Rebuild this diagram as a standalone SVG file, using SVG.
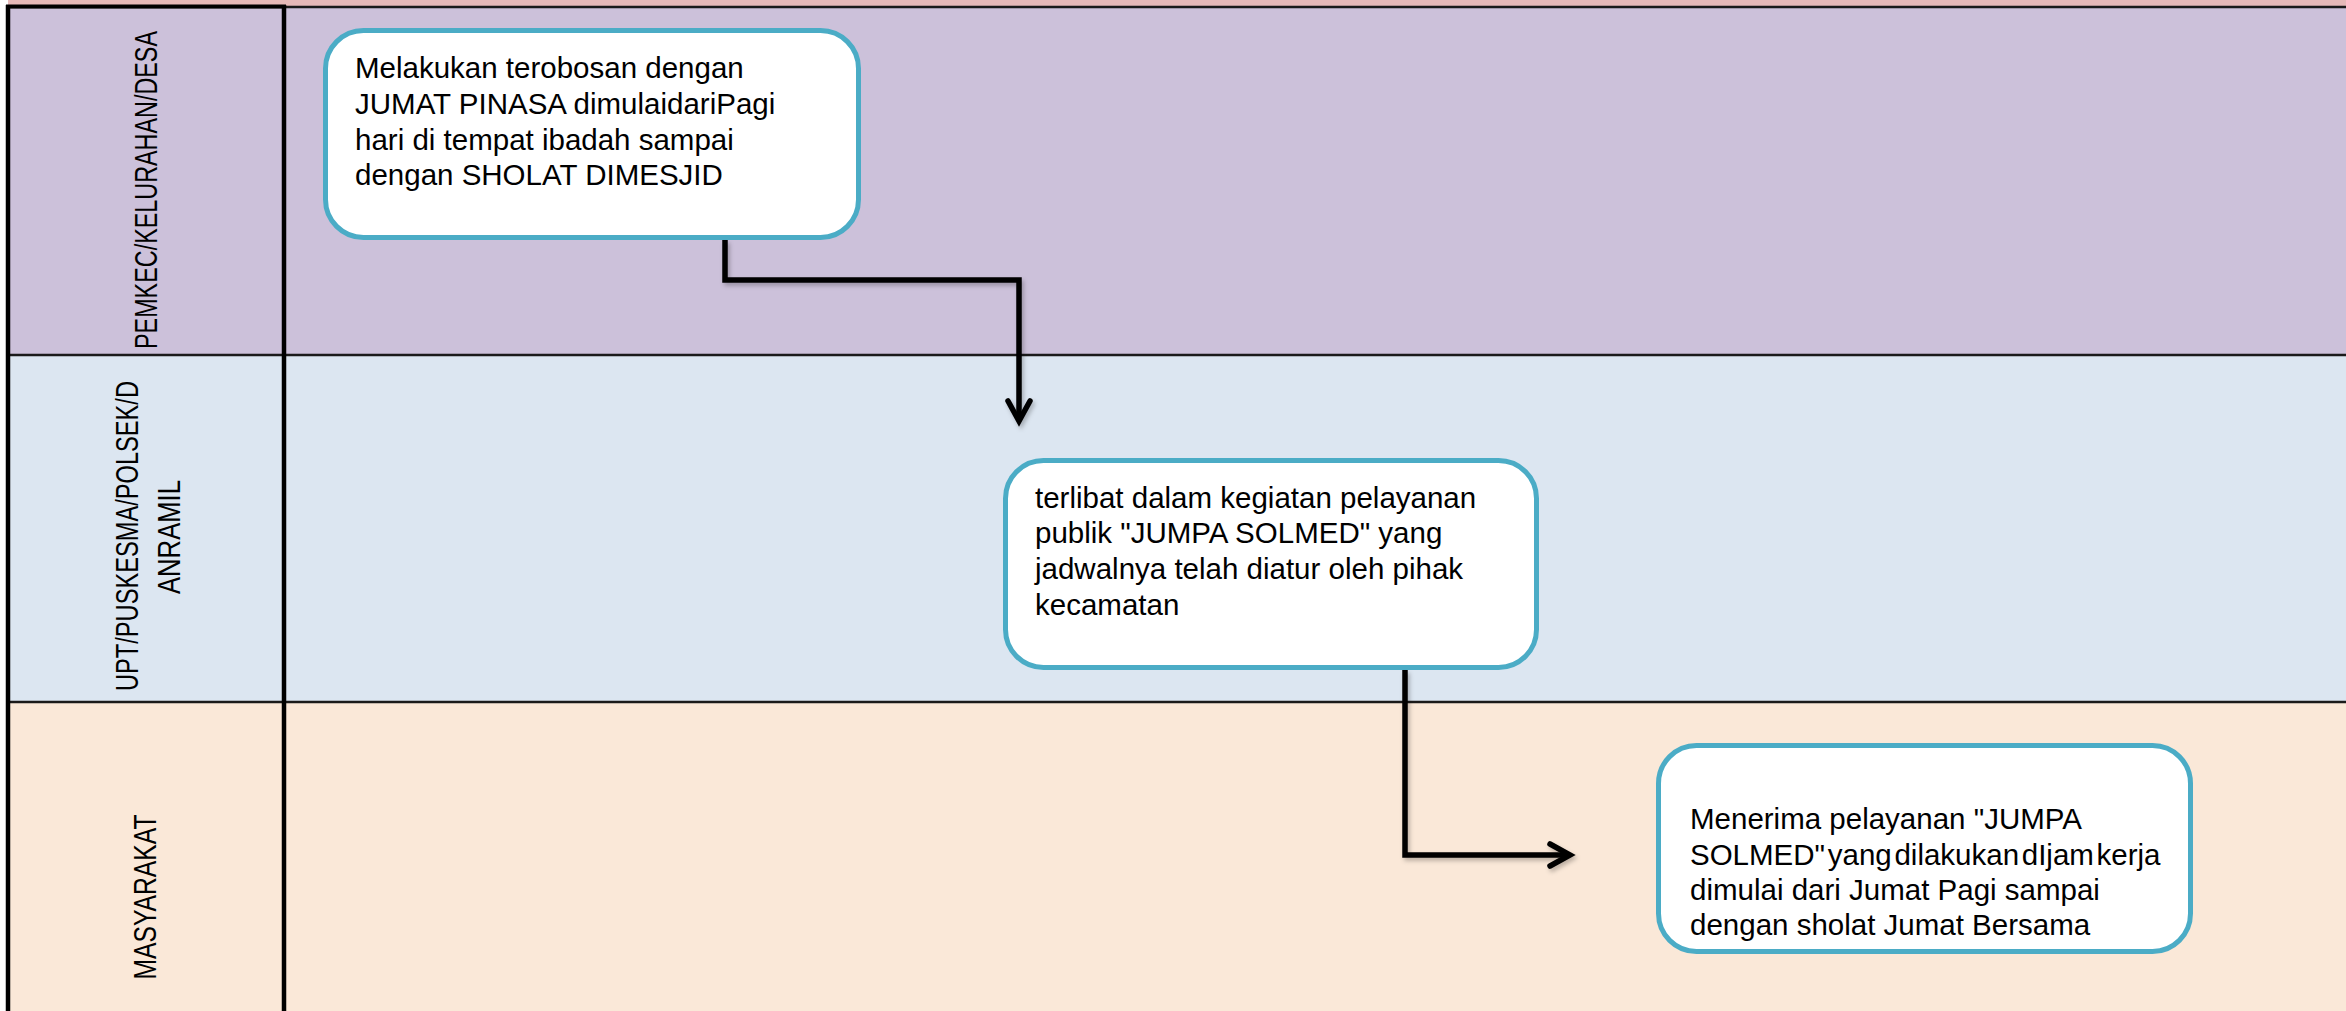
<svg xmlns="http://www.w3.org/2000/svg" width="2346" height="1011" viewBox="0 0 2346 1011">
  <defs>
    <style>
      .lane-line { stroke: #1a1a1a; stroke-width: 2.5; }
      .box { fill: #ffffff; stroke: #4BACC6; stroke-width: 5; }
      .txt { font-family: "Liberation Sans", Arial, sans-serif; font-size: 29.5px; fill: #000000; }
      .lbl { font-family: "Liberation Sans", Arial, sans-serif; font-size: 31px; fill: #000000; text-anchor: middle; }
      .conn { fill: none; stroke: #000000; stroke-width: 5.5; stroke-linejoin: miter; }
      .head { fill: none; stroke: #000000; stroke-width: 5.5; stroke-linecap: round; stroke-linejoin: miter; }
    </style>
    <filter id="shadow" x="-10%" y="-10%" width="130%" height="130%">
      <feDropShadow dx="2" dy="3" stdDeviation="2" flood-color="#000000" flood-opacity="0.25"/>
    </filter>
  </defs>

  <rect x="0" y="0" width="2346" height="1011" fill="#ffffff"/>

  <g id="lanes">
    <rect x="8" y="0" width="2338" height="7" fill="#E6B9B8"/>
    <rect x="8" y="7" width="2338" height="348" fill="#CCC1DA"/>
    <rect x="8" y="355" width="2338" height="347" fill="#DCE6F1"/>
    <rect x="8" y="702" width="2338" height="309" fill="#FAE8D8"/>
    <line class="lane-line" x1="8" y1="7" x2="2346" y2="7"/>
    <line class="lane-line" x1="8" y1="355" x2="2346" y2="355"/>
    <line class="lane-line" x1="8" y1="702" x2="2346" y2="702"/>
    <line x1="6" y1="6.5" x2="286" y2="6.5" stroke="#000" stroke-width="4"/>
    <line x1="8" y1="5" x2="8" y2="1011" stroke="#000" stroke-width="4.5"/>
    <line x1="284" y1="5" x2="284" y2="1011" stroke="#000" stroke-width="4.5"/>
  </g>

  <g id="lane-labels">
    <g id="label-pemkec">
      <text class="lbl" transform="translate(157,190) rotate(-90)" textLength="318" lengthAdjust="spacingAndGlyphs">PEMKEC/KELURAHAN/DESA</text>
    </g>
    <g id="label-upt">
      <text class="lbl" transform="translate(138,536) rotate(-90)" textLength="310" lengthAdjust="spacingAndGlyphs">UPT/PUSKESMA/POLSEK/D</text>
      <text class="lbl" transform="translate(180,537) rotate(-90)" textLength="114" lengthAdjust="spacingAndGlyphs">ANRAMIL</text>
    </g>
    <g id="label-masyarakat">
      <text class="lbl" transform="translate(156,897) rotate(-90)" textLength="165" lengthAdjust="spacingAndGlyphs">MASYARAKAT</text>
    </g>
  </g>

  <g id="connectors">
    <g filter="url(#shadow)">
      <polyline class="conn" points="725,240 725,280 1019,280 1019,419"/>
      <polyline class="head" points="1008,401 1019,421 1030,401"/>
    </g>
    <g filter="url(#shadow)">
      <polyline class="conn" points="1405,670 1405,855 1568,855"/>
      <polyline class="head" points="1550,844 1570,855 1550,866"/>
    </g>
  </g>

  <g id="node-1">
    <rect class="box" x="325.5" y="30.5" width="533" height="207" rx="38" ry="38"/>
    <text class="txt" x="355" y="78">Melakukan terobosan dengan</text>
    <text class="txt" x="355" y="114">JUMAT PINASA dimulaidariPagi</text>
    <text class="txt" x="355" y="150">hari di tempat ibadah sampai</text>
    <text class="txt" x="355" y="185">dengan SHOLAT DIMESJID</text>
  </g>

  <g id="node-2">
    <rect class="box" x="1005.5" y="460.5" width="531" height="207" rx="38" ry="38"/>
    <text class="txt" x="1035" y="508">terlibat dalam kegiatan pelayanan</text>
    <text class="txt" x="1035" y="543">publik "JUMPA SOLMED" yang</text>
    <text class="txt" x="1035" y="579">jadwalnya telah diatur oleh pihak</text>
    <text class="txt" x="1035" y="615">kecamatan</text>
  </g>

  <g id="node-3">
    <rect class="box" x="1658.5" y="745.5" width="532" height="206" rx="38" ry="38"/>
    <text class="txt" x="1690" y="829">Menerima pelayanan "JUMPA</text>
    <text class="txt" x="1690" y="865" word-spacing="-5.5">SOLMED" yang dilakukan dIjam kerja</text>
    <text class="txt" x="1690" y="900">dimulai dari Jumat Pagi sampai</text>
    <text class="txt" x="1690" y="935">dengan sholat Jumat Bersama</text>
  </g>
</svg>
